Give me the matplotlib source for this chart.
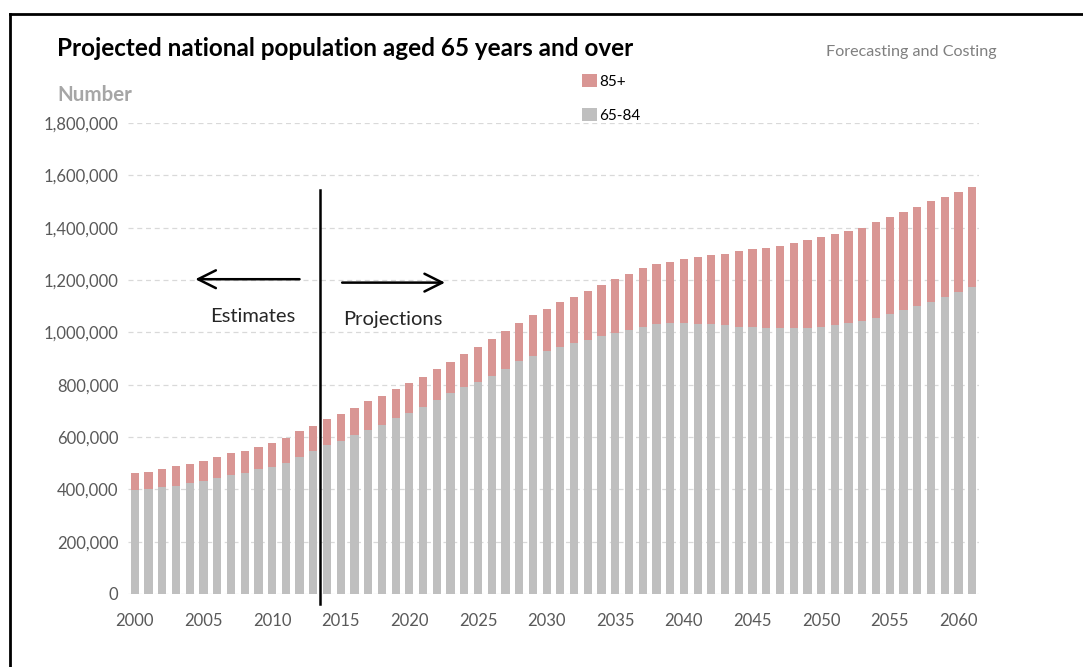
import matplotlib
matplotlib.use("Agg")
import matplotlib.pyplot as plt
from matplotlib.lines import Line2D
from matplotlib.patches import Patch
import numpy as np

# data
years = list(range(2000, 2062))
age_65_84 = [397000, 401000, 408000, 413000, 423000, 433000, 442000, 454000, 464000, 477000,
             487000, 502000, 524000, 545000, 568000, 586000, 606000, 627000, 646000, 671000,
             691000, 716000, 741000, 767000, 790000, 811000, 833000, 859000, 889000, 910000,
             930000, 945000, 961000, 971000, 986000, 996000, 1009000, 1022000, 1032000, 1035000,
             1035000, 1031000, 1032000, 1027000, 1022000, 1022000, 1015000, 1015000, 1015000, 1015000,
             1022000, 1027000, 1035000, 1045000, 1055000, 1070000, 1085000, 1101000, 1115000, 1136000,
             1155000, 1175000]
total_65plus = [461000, 467000, 478000, 489000, 496000, 508000, 524000, 538000, 548000, 563000,
                577000, 598000, 622000, 642000, 668000, 687000, 711000, 738000, 757000, 782000,
                808000, 831000, 861000, 887000, 916000, 945000, 975000, 1005000, 1035000, 1065000,
                1090000, 1115000, 1136000, 1159000, 1180000, 1205000, 1224000, 1245000, 1260000, 1270000,
                1279000, 1289000, 1296000, 1300000, 1311000, 1317000, 1322000, 1331000, 1343000, 1352000,
                1366000, 1376000, 1386000, 1400000, 1422000, 1440000, 1460000, 1480000, 1501000, 1516000,
                1536000, 1557000]
age_85plus = [t - g for t, g in zip(total_65plus, age_65_84)]
xtick_years = list(range(2000, 2061, 5))
yticks = list(range(0, 1800001, 200000))
split_year = 2013.5

pink = "#d99694"
grey = "#bfbfbf"
font = "Lato"

fig = plt.figure(figsize=(10.83, 6.67), dpi=100)
ax = fig.add_axes([128/1083, 73/667, (979-128)/1083, (594-123)/667])

ax.bar(years, age_65_84, width=0.6, color=grey, zorder=2)
ax.bar(years, age_85plus, width=0.6, bottom=age_65_84, color=pink, zorder=2)

ax.set_xlim(1999.5, 2061.5)
ax.set_ylim(0, 1800000)
ax.set_yticks(yticks)
ax.set_yticklabels([f"{v:,}" for v in yticks], fontsize=12, color="#595959", family=font)
ax.set_xticks(xtick_years)
ax.set_xticklabels([str(y) for y in xtick_years], fontsize=12, color="#595959", family=font)
ax.tick_params(axis="x", length=0, pad=14)
ax.tick_params(axis="y", length=0, pad=7)
for s in ax.spines.values():
    s.set_visible(False)
ax.yaxis.grid(True, linestyle=(0, (4, 3)), color="#d9d9d9", linewidth=0.9, zorder=0)
ax.set_axisbelow(True)

# estimates / projections split
ax.plot([split_year, split_year], [-38000, 1545000], color="black", lw=1.8, clip_on=False, zorder=5)
ax.annotate("", xy=(2004.2, 1203000), xytext=(2012.2, 1203000),
            arrowprops=dict(arrowstyle="->", color="black", lw=1.8, mutation_scale=32))
ax.annotate("", xy=(2022.8, 1190000), xytext=(2014.9, 1190000),
            arrowprops=dict(arrowstyle="->", color="black", lw=1.8, mutation_scale=32))
ax.text(2008.6, 1060000, "Estimates", ha="center", va="center", fontsize=14.5, family=font, color="#262626")
ax.text(2018.8, 1048000, "Projections", ha="center", va="center", fontsize=14.5, family=font, color="#262626")

# legend
handles = [Patch(facecolor=pink, edgecolor="none"), Patch(facecolor=grey, edgecolor="none")]
fig.legend(handles, ["85+", "65-84"], loc="upper left", bbox_to_anchor=(582/1083, 1 - 74/667),
           frameon=False, handlelength=1.0, handleheight=0.95, handletextpad=0.1,
           labelspacing=1.25, borderpad=0, borderaxespad=0,
           prop={"family": font, "size": 11})

# titles and texts
fig.text(57/1083, 1 - 48/667, "Projected national population aged 65 years and over",
         fontsize=17.5, fontweight="bold", family=font, color="black", va="center")
fig.text(826/1083, 1 - 52/667, "Forecasting and Costing", fontsize=11.6, family=font,
         color="#7f7f7f", va="center")
fig.text(57/1083, 1 - 95/667, "Number", fontsize=14.8, fontweight="bold", family=font,
         color="#a6a6a6", va="center")

# frame lines
fig.add_artist(Line2D([10/1083, 1], [1 - 14/667, 1 - 14/667], color="black", lw=2, transform=fig.transFigure))
fig.add_artist(Line2D([10/1083, 10/1083], [0, 1 - 14/667], color="black", lw=2, transform=fig.transFigure))

fig.savefig("out.png", dpi=100)
